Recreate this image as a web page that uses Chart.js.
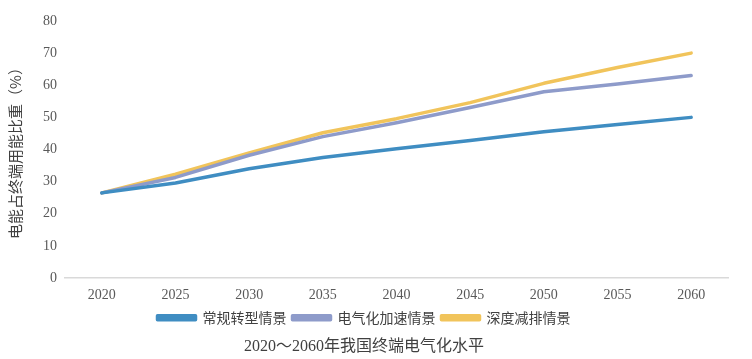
<!DOCTYPE html>
<html>
<head>
<meta charset="utf-8">
<script src="https://cdn.jsdelivr.net/npm/chart.js@4/dist/chart.umd.min.js"></script>
<style>
  html, body { margin: 0; padding: 0; background: #fff; }
  #wrap { position: relative; width: 752px; height: 359px; }
</style>
</head>
<body>
<div id="wrap"><canvas id="chart"></canvas></div>
<script>
// years on the x axis
const years = ['2020', '2025', '2030', '2035', '2040', '2045', '2050', '2055', '2060'];

// electricity share of final energy use (%)
const regularTransition = [26.5, 29.6, 34.0, 37.5, 40.2, 42.8, 45.5, 47.8, 50.0];
const accelElectrification = [26.5, 31.3, 38.2, 44.0, 48.3, 53.1, 58.0, 60.4, 63.0];
const deepReduction = [26.5, 32.3, 38.9, 45.2, 49.6, 54.6, 60.6, 65.5, 70.0];

const seriesNames = ['常规转型情景', '电气化加速情景', '深度减排情景'];
const seriesColors = ['#3F8DC2', '#8E9BCA', '#F1C45B'];

const yTitle = '电能占终端用能比重（%）';
const chartTitle = '2020～2060年我国终端电气化水平';

const tickFont = { family: '"Liberation Serif", "Times New Roman", serif', size: 14 };
const cjkFont = '"Noto Sans CJK SC", "Noto Sans", sans-serif';

function makeSet(i, values) {
  return {
    label: seriesNames[i],
    data: values,
    borderColor: seriesColors[i],
    backgroundColor: seriesColors[i],
    borderWidth: 3.5,
    borderCapStyle: 'round',
    borderJoinStyle: 'round',
    pointRadius: 0,
    tension: 0
  };
}

new Chart(document.getElementById('chart'), {
  type: 'line',
  data: {
    labels: years,
    datasets: [
      makeSet(0, regularTransition),
      makeSet(1, accelElectrification),
      makeSet(2, deepReduction)
    ]
  },
  options: {
    responsive: true,
    maintainAspectRatio: false,
    animation: false,
    layout: { padding: { left: 0, right: 24, top: 21, bottom: 3 } },
    scales: {
      x: {
        offset: true,
        grid: { display: false },
        border: { display: true, color: '#D9D9D9', width: 1.5 },
        ticks: { color: '#595959', font: tickFont, padding: 1 }
      },
      y: {
        min: 0,
        max: 80,
        grid: { display: false },
        border: { display: false },
        ticks: { stepSize: 10, color: '#595959', font: tickFont, padding: 0 },
        title: {
          display: true,
          text: yTitle,
          color: '#404040',
          font: { family: cjkFont, size: 15 },
          padding: { top: 6, bottom: 0 }
        },
        afterFit: (scale) => { scale.width = 65; }
      }
    },
    plugins: {
      legend: {
        position: 'bottom',
        labels: {
          boxWidth: 38,
          boxHeight: 4,
          color: '#404040',
          font: { family: cjkFont, size: 14 },
          padding: 6
        }
      },
      title: {
        display: true,
        position: 'bottom',
        text: chartTitle,
        color: '#404040',
        font: { family: '"Liberation Serif", "Noto Sans CJK SC", serif', size: 16, weight: 'normal' },
        padding: { top: 2, bottom: 0 }
      },
      tooltip: { enabled: false }
    }
  }
});
</script>
</body>
</html>
